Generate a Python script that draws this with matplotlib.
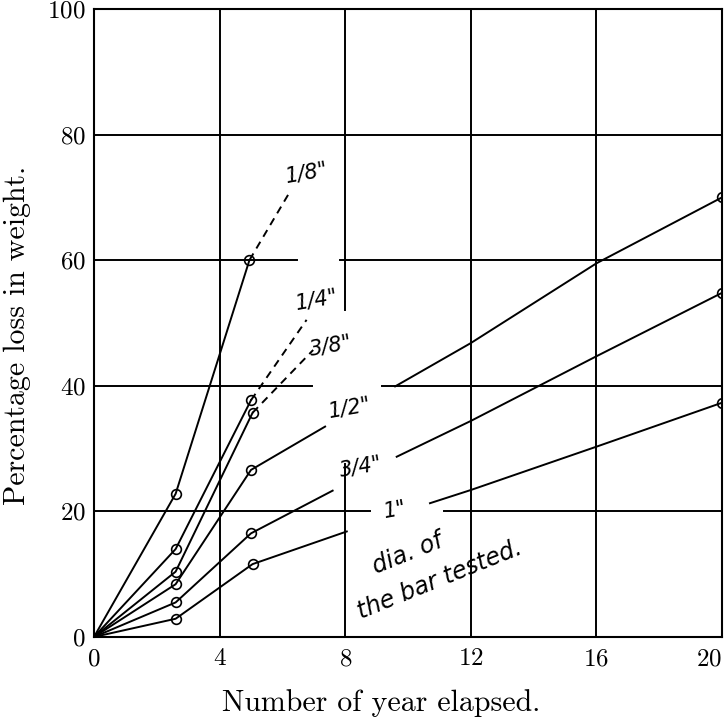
import matplotlib
matplotlib.use("Agg")
import matplotlib.pyplot as plt

plt.rcParams["font.family"] = "cmr10"
plt.rcParams["axes.formatter.use_mathtext"] = True

# values
x_ticks = [0, 4, 8, 12, 16, 20]
y_ticks = [0, 20, 40, 60, 80, 100]

# diameter labels and measured loss, early years (solid) / extrapolated (dashed) / later (solid)
names = ['1/8"', '1/4"', '3/8"', '1/2"', '3/4"', '1"']
early_x = [
    [0, 2.6, 4.95],
    [0, 2.6, 5.0],
    [0, 2.6, 5.05],
    [0, 2.6, 5.0, 7.36],
    [0, 2.6, 5.0, 7.6],
    [0, 2.6, 5.05, 8.05],
]
early_y = [
    [0, 22.8, 60.0],
    [0, 14.0, 37.7],
    [0, 10.4, 35.7],
    [0, 8.4, 26.6, 33.5],
    [0, 5.5, 16.5, 23.3],
    [0, 2.9, 11.6, 16.8],
]
dash_x = [[4.95, 6.24], [5.0, 6.77], [5.05, 6.98], None, None, None]
dash_y = [[60.0, 70.9], [37.7, 50.5], [35.7, 45.7], None, None, None]
late_x = [None, None, None, [9.59, 12, 16, 20], [9.64, 12, 16, 20], [10.7, 12, 16, 20]]
late_y = [None, None, None, [39.9, 46.8, 59.5, 70.0], [28.7, 34.4, 44.7, 54.8], [21.3, 23.4, 30.3, 37.3]]
label_xy = [(6.77, 73.9), (7.1, 53.7), (7.55, 46.4), (8.15, 36.5), (8.5, 27.1), (9.6, 20.2)]

fig = plt.figure(figsize=(7.28, 7.19), dpi=100)
ax = fig.add_axes([0.1291, 0.1141, 0.8627, 0.8734])

lw = 1.4
# grid, hand ruled with breaks where the labels sit
for xv in [4, 12, 16]:
    ax.plot([xv, xv], [0, 100], color="k", lw=lw)
ax.plot([8, 8], [52.0, 100], color="k", lw=lw)
ax.plot([8, 8], [0, 27.5], color="k", lw=lw)
ax.plot([0, 20], [80, 80], color="k", lw=lw)
ax.plot([0, 6.45], [60, 60], color="k", lw=lw)
ax.plot([7.83, 20], [60, 60], color="k", lw=lw)
ax.plot([0, 6.93], [40, 40], color="k", lw=lw)
ax.plot([9.16, 20], [40, 40], color="k", lw=lw)
ax.plot([0, 8.79], [20, 20], color="k", lw=lw)
ax.plot([11.15, 20], [20, 20], color="k", lw=lw)

mk = dict(marker="o", ms=7, mfc="none", mec="k", mew=1.2)
for i, name in enumerate(names):
    ax.plot(early_x[i], early_y[i], color="k", lw=lw, markevery=[1, 2], **mk)
    if dash_x[i] is not None:
        ax.plot(dash_x[i], dash_y[i], color="k", lw=lw, ls=(0, (4, 3)))
    if late_x[i] is not None:
        ax.plot(late_x[i], late_y[i], color="k", lw=lw, markevery=[len(late_x[i]) - 1], **mk)
    ax.text(label_xy[i][0], label_xy[i][1], name, fontsize=15, family="DejaVu Sans",
            style="italic", ha="center", va="center", rotation=10)

ax.text(10.0, 13.2, "dia. of", fontsize=17, family="DejaVu Sans", style="italic",
        ha="center", va="center", rotation=22)
ax.text(11.0, 9.2, "the bar tested.", fontsize=17, family="DejaVu Sans", style="italic",
        ha="center", va="center", rotation=22)

ax.set_xlim(0, 20)
ax.set_ylim(0, 100)
ax.set_xticks(x_ticks)
ax.set_yticks(y_ticks)
ax.tick_params(length=0, labelsize=18)
ax.tick_params(axis="x", pad=8)
ax.tick_params(axis="y", pad=6)
ax.get_xticklabels()[-1].set_horizontalalignment("right")
for s in ax.spines.values():
    s.set_linewidth(1.5)

ax.set_xlabel("Number of year elapsed.", fontsize=21.5, va="center")
ax.xaxis.set_label_coords(0.458, -0.105)
ax.set_ylabel("Percentage loss in weight.", fontsize=21.5, va="center")
ax.yaxis.set_label_coords(-0.122, 0.481)

fig.savefig("out.png", dpi=100)
